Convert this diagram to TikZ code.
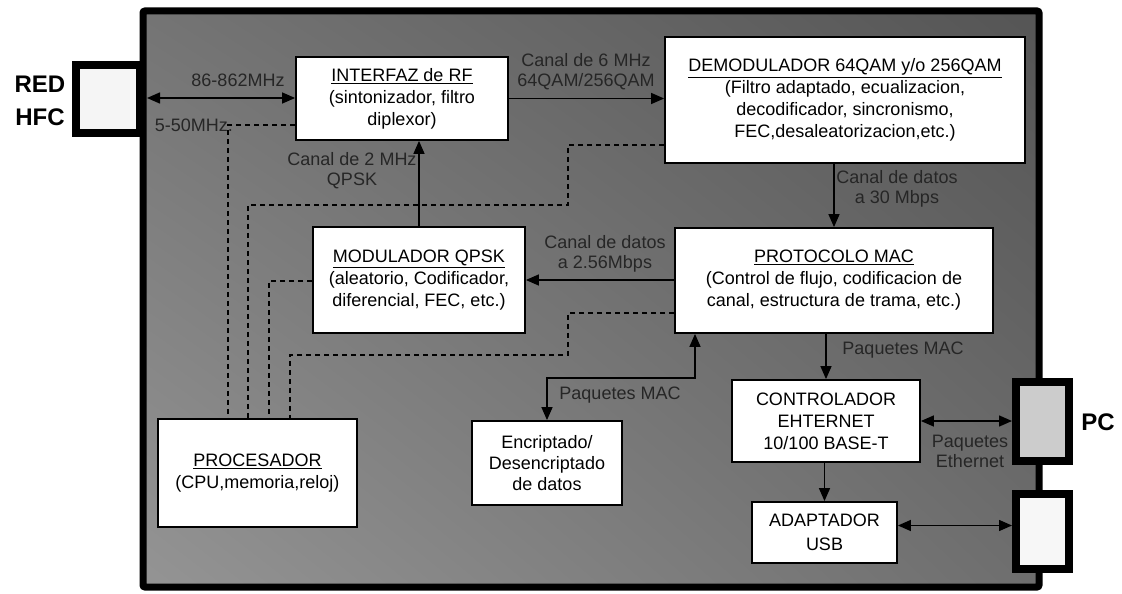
\documentclass[tikz,border=0pt]{standalone}
\usepackage{fontspec}
\setmainfont{Liberation Sans}
\usetikzlibrary{arrows.meta,calc,shadings}
\definecolor{bgUL}{HTML}{747474}
\definecolor{bgUR}{HTML}{555555}
\definecolor{bgLL}{HTML}{949494}
\definecolor{bgLR}{HTML}{6E6E6E}
\definecolor{lbltxt}{HTML}{262626}
\begin{document}
\begin{tikzpicture}[x=1pt,y=-1pt,
  box/.style={draw=black, line width=1.8pt, fill=white, align=center,
    font=\fontsize{18}{22}\selectfont, inner sep=0pt},
  lbl/.style={text=lbltxt, align=center, font=\fontsize{18}{20}\selectfont, inner sep=0pt},
  big/.style={font=\fontsize{24}{30}\selectfont\bfseries, inner sep=0pt},
  conn/.style={draw=black, line width=8pt, inner sep=0pt},
  tip/.tip={Triangle[length=13pt,width=11pt]},
  arr/.style={line width=1.4pt, -tip},
  darr/.style={line width=1.4pt, tip-tip},
  dsh/.style={line width=1.4pt, dash pattern=on 5pt off 4pt}]
\useasboundingbox (0,0) rectangle (1122,594);

% main enclosure
\shade[upper left=bgUL, upper right=bgUR, lower left=bgLL, lower right=bgLR]
  (143,11) rectangle (1039,587);
\draw[line width=7pt, rounded corners=2pt] (143,11) rectangle (1039,587);

% external connectors
\node[conn, fill=white!92!gray, minimum width=64, minimum height=68] (hfc) at (108,99) {};
\node[conn, fill=gray!40, minimum width=53, minimum height=79] (pcA) at (1042.5,421.5) {};
\node[conn, fill=white!94!gray, minimum width=53, minimum height=75] (pcB) at (1042.5,531.5) {};
\node[big] (red) at (40,84) {RED};
\node[big] (hfctxt) at (40,117) {HFC};
\node[big] (pc) at (1098,422) {PC};

% blocks
\node[box, minimum width=212, minimum height=83] (INT) at (402,98.5)
  {\underline{INTERFAZ de RF}\\(sintonizador, filtro\\diplexor)};
\node[box, minimum width=360, minimum height=126] (DEM) at (845,100)
  {\underline{DEMODULADOR 64QAM y/o 256QAM}\\(Filtro adaptado, ecualizacion,\\decodificador, sincronismo,\\FEC,desaleatorizacion,etc.)};
\node[box, minimum width=212, minimum height=106] (MOD) at (419,280)
  {\underline{MODULADOR QPSK}\\(aleatorio, Codificador,\\diferencial, FEC, etc.)};
\node[box, minimum width=318, minimum height=105] (PROT) at (834,280.5)
  {\underline{PROTOCOLO MAC}\\(Control de flujo, codificacion de\\canal, estructura de trama, etc.)};
\node[box, minimum width=199, minimum height=108] (PROC) at (257.5,473)
  {\underline{PROCESADOR}\\(CPU,memoria,reloj)};
\node[box, minimum width=150, minimum height=84, font=\fontsize{18}{21}\selectfont] (ENC) at (547,463)
  {Encriptado/\\Desencriptado\\de datos};
\node[box, minimum width=188, minimum height=82] (CTRL) at (826,421)
  {CONTROLADOR\\EHTERNET\\10/100 BASE-T};
\node[box, minimum width=145, minimum height=61, font=\fontsize{18}{24}\selectfont] (ADAPT) at (824.5,532.5)
  {ADAPTADOR\\USB};

% labels
\node[lbl] (l1) at (238,80) {86-862MHz};
\node[lbl, anchor=east] (l2) at (233,125) {5-50MHz.};
\node[lbl] (l3) at (586,72) {Canal de 6 MHz\\64QAM/256QAM};
\node[lbl] (l4) at (352,171) {Canal de 2 MHz\\QPSK};
\node[lbl] (l5) at (897,189) {Canal de datos\\a 30 Mbps};
\node[lbl] (l6) at (605,254) {Canal de datos\\a 2.56Mbps};
\node[lbl] (l7) at (903,350) {Paquetes MAC};
\node[lbl] (l8) at (620,395) {Paquetes MAC};
\node[lbl] (l9) at (970,451) {Paquetes\\Ethernet};

% solid connectors
\coordinate (hin) at (147,98);
\draw[darr] (hin) -- (hin -| INT.west);
\draw[arr] (INT.east) -- (INT.east -| DEM.west);
\draw[arr] (MOD.north) -- (MOD.north |- INT.south);
\draw[arr] (PROT.north |- DEM.south) -- (PROT.north);
\draw[arr] (PROT.west |- MOD.east) -- (MOD.east);
\coordinate (mac) at (695,378);
\draw[darr] (ENC.north) |- (mac) -- (mac |- PROT.south);
\draw[arr] (CTRL.north |- PROT.south) -- (CTRL.north);
\draw[arr] (ADAPT.north |- CTRL.south) -- (ADAPT.north);
\draw[darr] (CTRL.east) -- (CTRL.east -| pcA.west);
\coordinate (usb) at ($(ADAPT.east)+(0,-7)$);
\draw[darr] (usb) -- (usb -| pcB.west);

% dashed control lines
\coordinate (d1) at (228,125);
\draw[dsh] (INT.west |- d1) -- (d1) -- (d1 |- PROC.north);
\coordinate (c1) at (568,145);
\coordinate (c2) at (248,205);
\draw[dsh] (DEM.west |- c1) -- (c1) |- (c2) -- (c2 |- PROC.north);
\coordinate (c3) at (269,281);
\draw[dsh] (MOD.west |- c3) -- (c3) -- (c3 |- PROC.north);
\coordinate (c4) at (568,313);
\coordinate (c5) at (290,355);
\draw[dsh] (PROT.west |- c4) -- (c4) |- (c5) -- (c5 |- PROC.north);
\end{tikzpicture}
\end{document}
